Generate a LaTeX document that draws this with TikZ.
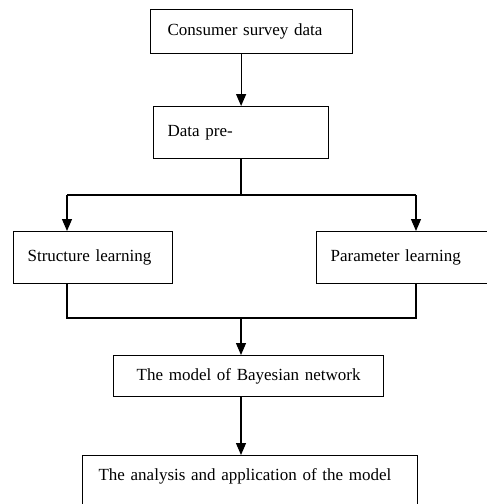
\documentclass[tikz,border=0pt]{standalone}
\usepackage{fontspec}
\setmainfont{Liberation Serif}
\usetikzlibrary{arrows.meta}
\begin{document}
\begin{tikzpicture}[x=1pt,y=-1pt,
  box/.style={draw, line width=1.2pt, anchor=north west, align=left,
    inner ysep=0pt, font=\fontsize{17}{20}\selectfont},
  link/.style={line width=1.2pt},
  arr/.style={link, -{Triangle[width=10pt,length=12pt]}}]
\useasboundingbox (0,0) rectangle (487,504);
\clip (0,0) rectangle (487,504);

% process boxes
\node[box, minimum height=44pt, inner xsep=17pt, text width=168pt] (survey) at (150,9) {Consumer survey data};
\node[box, minimum height=52pt, inner xsep=14pt, text width=147pt] (pre) at (153,106) {Data pre-};
\node[box, minimum height=52pt, inner xsep=14pt, text width=131pt] (struct) at (13,231) {Structure learning};
\node[box, minimum height=52pt, inner xsep=14pt, text width=152pt] (param) at (316,231) {Parameter learning};
\node[box, minimum height=41pt, inner xsep=0pt, text width=270pt, align=center] (model) at (113,355) {The model of Bayesian network};
\node[box, inner xsep=16pt, text width=303pt, text height=12pt, text depth=30pt, inner ysep=13pt] (apply) at (82,455) {The analysis and application of the model};

% branch and merge points
\coordinate (split) at (241,195);
\coordinate (lbr) at (67,195);
\coordinate (rbr) at (416,195);
\coordinate (join) at (241,318);
\coordinate (ljn) at (67,318);
\coordinate (rjn) at (416,318);

% connectors
\draw[arr] (pre.north |- survey.south) -- (pre.north);
\draw[link] (pre.south -| split) -- (split);
\draw[link] (lbr) -- (rbr);
\draw[arr] (lbr) -- (lbr |- struct.north);
\draw[arr] (rbr) -- (rbr |- param.north);
\draw[link] (ljn |- struct.south) -- (ljn) -- (rjn) -- (rjn |- param.south);
\draw[arr] (join) -- (join |- model.north);
\draw[arr] (model.south -| join) -- (join |- apply.north);
\end{tikzpicture}
\end{document}
